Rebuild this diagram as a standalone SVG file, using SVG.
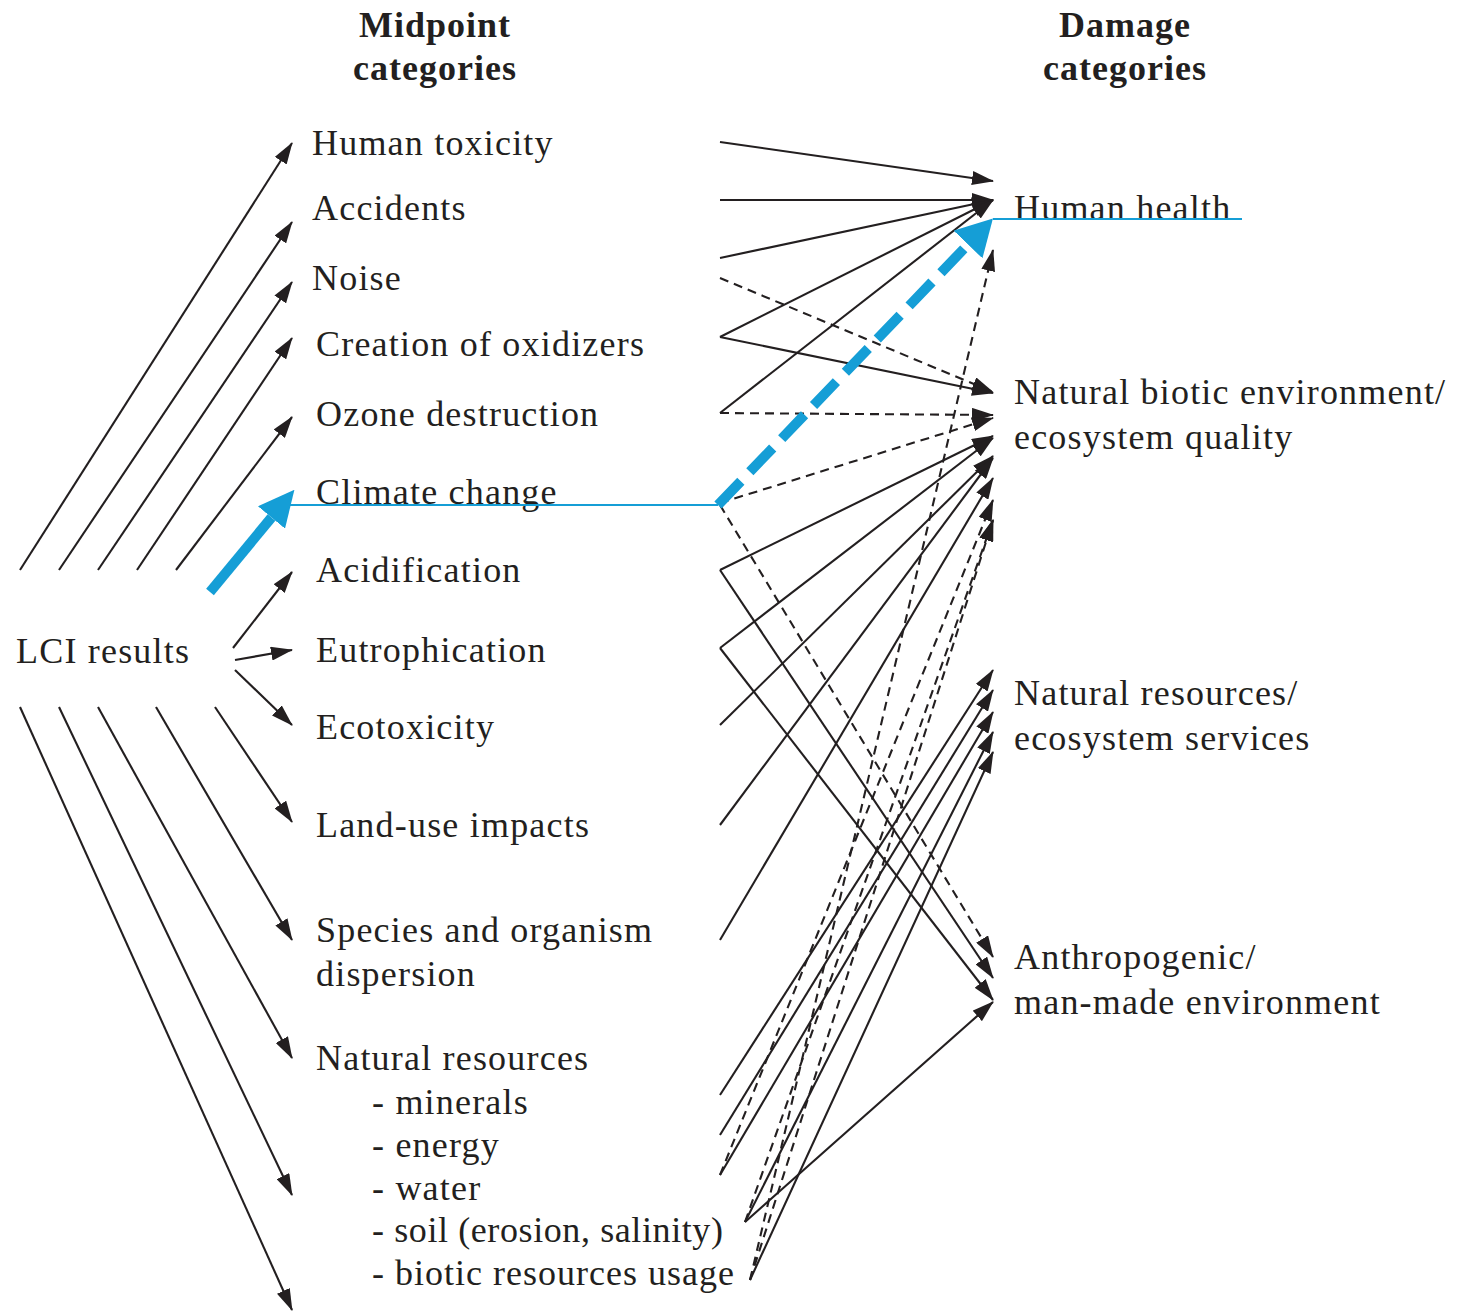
<svg xmlns="http://www.w3.org/2000/svg" width="1458" height="1313" viewBox="0 0 1458 1313">
<style>
.t{font-family:"Liberation Serif","Times New Roman",serif;font-size:36px;fill:#231f20;letter-spacing:1.2px}
.h{font-family:"Liberation Serif","Times New Roman",serif;font-size:36px;font-weight:bold;fill:#231f20;text-anchor:middle;letter-spacing:1px}
.c line{stroke:#231f20;stroke-width:2.1;fill:none;marker-end:url(#ah)}
.c line.d{stroke-dasharray:9 6}
.blue{stroke:#159ed6;fill:none}
</style>
<defs>
<marker id="ah" markerUnits="userSpaceOnUse" markerWidth="22" markerHeight="14" refX="21" refY="7" orient="auto"><path d="M0,0 L22,7 L0,14 z" fill="#231f20"/></marker>
<marker id="bh1" markerUnits="userSpaceOnUse" markerWidth="36" markerHeight="35" refX="0" refY="17.5" orient="auto"><path d="M0,0 L36,17.5 L0,35 z" fill="#159ed6"/></marker>
<marker id="bh2" markerUnits="userSpaceOnUse" markerWidth="36" markerHeight="40" refX="0" refY="20" orient="auto"><path d="M0,0 L36,20 L0,40 z" fill="#159ed6"/></marker>
</defs>
<rect width="1458" height="1313" fill="#ffffff"/>

<g id="headers">
<text class="h" x="435" y="37">Midpoint</text>
<text class="h" x="435" y="80">categories</text>
<text class="h" x="1125" y="37">Damage</text>
<text class="h" x="1125" y="80">categories</text>
</g>

<g id="lci"><text class="t" x="16" y="663">LCI results</text></g>

<g id="mid-human-toxicity"><text class="t" x="312" y="155">Human toxicity</text></g>
<g id="mid-accidents"><text class="t" x="312" y="220">Accidents</text></g>
<g id="mid-noise"><text class="t" x="312" y="290">Noise</text></g>
<g id="mid-oxidizers"><text class="t" x="316" y="356">Creation of oxidizers</text></g>
<g id="mid-ozone"><text class="t" x="316" y="426">Ozone destruction</text></g>
<g id="mid-climate"><text class="t" x="316" y="504">Climate change</text></g>
<g id="mid-acidification"><text class="t" x="316" y="582">Acidification</text></g>
<g id="mid-eutrophication"><text class="t" x="316" y="662">Eutrophication</text></g>
<g id="mid-ecotoxicity"><text class="t" x="316" y="739">Ecotoxicity</text></g>
<g id="mid-landuse"><text class="t" x="316" y="837">Land-use impacts</text></g>
<g id="mid-species"><text class="t" x="316" y="942">Species and organism</text><text class="t" x="316" y="986">dispersion</text></g>
<g id="mid-resources">
<text class="t" x="316" y="1070">Natural resources</text>
<text class="t" x="372" y="1114">- minerals</text>
<text class="t" x="372" y="1157">- energy</text>
<text class="t" x="372" y="1200">- water</text>
<text class="t" x="372" y="1242" style="letter-spacing:0.6px">- soil (erosion, salinity)</text>
<text class="t" x="372" y="1285" style="letter-spacing:1px">- biotic resources usage</text>
</g>

<g id="dmg-human-health"><text class="t" x="1014" y="220">Human health</text></g>
<g id="dmg-biotic"><text class="t" x="1014" y="404">Natural biotic environment/</text><text class="t" x="1014" y="449">ecosystem quality</text></g>
<g id="dmg-resources"><text class="t" x="1014" y="705">Natural resources/</text><text class="t" x="1014" y="750">ecosystem services</text></g>
<g id="dmg-anthro"><text class="t" x="1014" y="969">Anthropogenic/</text><text class="t" x="1014" y="1014">man-made environment</text></g>

<g id="connectors" class="c">
<line x1="20" y1="570" x2="292" y2="143"/>
<line x1="59" y1="570" x2="292" y2="222"/>
<line x1="98" y1="570" x2="292" y2="282"/>
<line x1="137" y1="570" x2="292" y2="338"/>
<line x1="176" y1="570" x2="292" y2="417"/>
<line x1="233" y1="648" x2="292" y2="572"/>
<line x1="235" y1="660" x2="292" y2="650"/>
<line x1="235" y1="670" x2="292" y2="725"/>
<line x1="215" y1="707" x2="292" y2="822"/>
<line x1="156" y1="707" x2="292" y2="940"/>
<line x1="98" y1="707" x2="292" y2="1058"/>
<line x1="59" y1="707" x2="292" y2="1195"/>
<line x1="20" y1="707" x2="292" y2="1310"/>

<line x1="720" y1="142" x2="993" y2="181"/>
<line x1="720" y1="200" x2="993" y2="200"/>
<line x1="720" y1="258" x2="993" y2="200"/>
<line class="d" x1="720" y1="278" x2="993" y2="392"/>
<line x1="720" y1="337" x2="993" y2="200"/>
<line x1="720" y1="337" x2="993" y2="393"/>
<line x1="720" y1="413" x2="993" y2="200"/>
<line class="d" x1="720" y1="413" x2="993" y2="415"/>
<line class="d" x1="720" y1="503" x2="993" y2="418"/>
<line class="d" x1="720" y1="505" x2="993" y2="957"/>
<line x1="720" y1="570" x2="993" y2="436"/>
<line x1="720" y1="570" x2="993" y2="978"/>
<line x1="720" y1="648" x2="993" y2="438"/>
<line x1="720" y1="648" x2="993" y2="1000"/>
<line x1="720" y1="725" x2="993" y2="456"/>
<line x1="720" y1="825" x2="993" y2="458"/>
<line x1="720" y1="940" x2="993" y2="478"/>
<line x1="720" y1="1095" x2="993" y2="670"/>
<line x1="720" y1="1135" x2="993" y2="690"/>
<line x1="720" y1="1175" x2="993" y2="712"/>
<line x1="745" y1="1222" x2="993" y2="732"/>
<line x1="750" y1="1280" x2="993" y2="752"/>
<line x1="745" y1="1222" x2="993" y2="1002"/>
<line class="d" x1="720" y1="1175" x2="993" y2="500"/>
<line class="d" x1="745" y1="1222" x2="993" y2="520"/>
<line class="d" x1="750" y1="1280" x2="993" y2="520"/>
<line class="d" x1="750" y1="1280" x2="993" y2="250"/>

<path class="blue" stroke-width="2" d="M290,505 H718"/>
<path class="blue" stroke-width="2" d="M993,219 H1242"/>
<path class="blue" stroke-width="10" d="M210,592 L271.5,517.5" marker-end="url(#bh1)"/>
<path class="blue" stroke-width="10" stroke-dasharray="33 13" d="M718,505 L968,244.5" marker-end="url(#bh2)"/>
</g>
</svg>
